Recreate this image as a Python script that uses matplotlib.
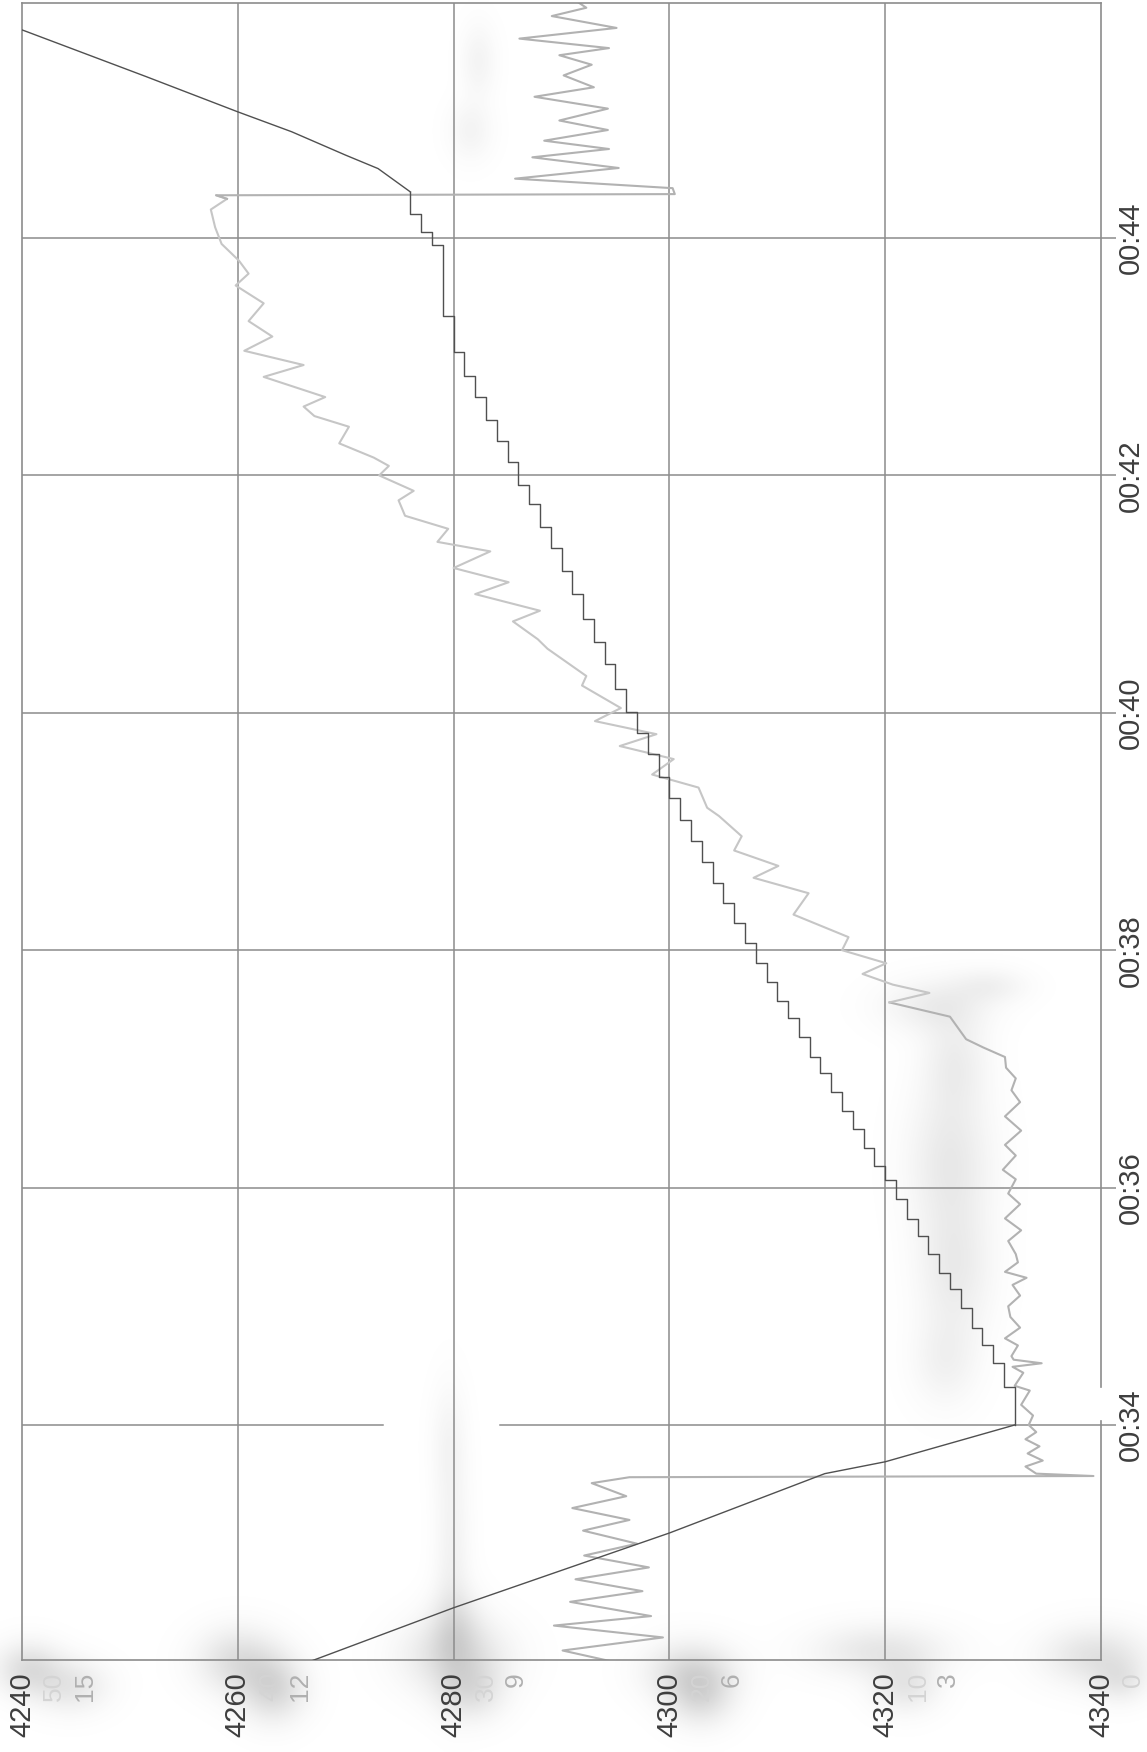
import numpy as np
import matplotlib
matplotlib.use("Agg")
import matplotlib.pyplot as plt
from matplotlib.transforms import blended_transform_factory

plt.rcParams['font.family'] = ['Liberation Sans', 'DejaVu Sans']

# ---------------- data (time in minutes, value on horizontal axis) ----------------
value_ticks = [4240, 4260, 4280, 4300, 4320, 4340]
value_labels = ['4240', '4260', '4280', '4300', '4320', '4340']
time_ticks = [34, 36, 38, 40, 42, 44]
time_labels = ['00:34', '00:36', '00:38', '00:40', '00:42', '00:44']
sec_labels_a = ['15', '12', '9', '6', '3']          # faint secondary scale
sec_labels_b = ['50', '40', '30', '20', '10', '0']  # very faint bleed-through scale

# dark line: descent
desc_t = [31.95, 32.46, 33.09, 33.59, 33.69, 34.0]
desc_v = [4265.0, 4280.0, 4300.0, 4314.4, 4320.0, 4332.0]
# dark line: stepped ascent (value holds until next time)
step_t = [34.0, 34.323, 34.519, 34.673, 34.815, 34.984, 35.147, 35.280, 35.443, 35.591,
          35.739, 35.902, 36.065, 36.184, 36.332, 36.495, 36.643, 36.806, 36.969, 37.102,
          37.265, 37.428, 37.576, 37.733, 37.890, 38.064, 38.225, 38.400, 38.563, 38.740,
          38.916, 39.100, 39.286, 39.463, 39.656, 39.833, 40.010, 40.203, 40.412, 40.598,
          40.791, 41.000, 41.193, 41.392, 41.569, 41.756, 41.916, 42.116, 42.293, 42.469,
          42.658, 42.841, 43.038, 43.347, 43.938, 44.051, 44.205, 44.388]
step_v = [4332, 4331, 4330, 4329, 4328, 4327, 4326, 4325, 4324, 4323,
          4322, 4321, 4320, 4319, 4318, 4317, 4316, 4315, 4314, 4313,
          4312, 4311, 4310, 4309, 4308, 4307, 4306, 4305, 4304, 4303,
          4302, 4301, 4300, 4299, 4298, 4297, 4296, 4295, 4294, 4293,
          4292, 4291, 4290, 4289, 4288, 4287, 4286, 4285, 4284, 4283,
          4282, 4281, 4280, 4279, 4278, 4277, 4276, 4276]
# dark line: final ascent
asc_t = [44.388, 44.585, 44.698, 44.895, 45.063, 45.36, 45.74, 45.80]
asc_v = [4276.0, 4273.0, 4270.0, 4265.0, 4260.0, 4251.5, 4240.4, 4238.6]

# gray wavy line
gray_t = [31.95, 32.10, 32.21, 32.31, 32.39, 32.51, 32.60, 32.70, 32.80, 32.90, 33.00, 33.11,
          33.20, 33.30, 33.40, 33.51, 33.56,
          33.57, 33.59,
          33.65, 33.70, 33.76, 33.82, 33.88, 33.94, 34.00, 34.08, 34.17, 34.29, 34.33, 34.44,
          34.49, 34.52, 34.55, 34.58, 34.67, 34.73, 34.82, 34.91, 35.00, 35.09, 35.18, 35.24,
          35.29, 35.37, 35.44, 35.55, 35.64, 35.74, 35.86, 35.95, 36.07, 36.15, 36.27, 36.36,
          36.48, 36.60, 36.72, 36.82, 36.92, 37.01,
          37.10, 37.18, 37.25, 37.44, 37.56, 37.64, 37.71, 37.80, 37.89, 38.00,
          38.11, 38.30, 38.48, 38.61, 38.71, 38.84, 38.96, 39.13, 39.20, 39.37,
          39.48, 39.61, 39.72, 39.82, 39.93, 40.04, 40.23, 40.31, 40.54, 40.62,
          40.77, 40.86, 41.00, 41.10, 41.22, 41.36, 41.44, 41.55, 41.66, 41.79,
          41.87, 42.00, 42.08, 42.15, 42.27, 42.41, 42.50, 42.58, 42.66, 42.83,
          42.93, 43.05, 43.17, 43.30, 43.45, 43.60, 43.70, 43.81, 43.95, 44.09,
          44.24, 44.33, 44.36,
          44.37, 44.42, 44.50, 44.59, 44.68, 44.75, 44.82, 44.91, 44.99, 45.09,
          45.19, 45.27, 45.37, 45.46, 45.54, 45.60, 45.68, 45.77, 45.87, 45.94, 46.05]
gray_v = [4297.5, 4290.1, 4299.4, 4289.3, 4298.3, 4290.8, 4297.5, 4291.3, 4298.1, 4292.1, 4297.0, 4292.0,
          4296.3, 4291.0, 4296.0, 4292.8, 4296.3,
          4339.3, 4334.0,
          4333.0, 4334.6, 4333.2, 4334.3, 4333.0, 4334.0, 4333.3, 4333.7, 4332.6, 4333.4, 4332.0, 4332.8,
          4331.8, 4334.5, 4331.9, 4331.7, 4332.3, 4331.1, 4332.5, 4331.6, 4331.4, 4332.5, 4331.8, 4333.1,
          4331.1, 4332.3, 4332.1, 4331.4, 4332.6, 4331.1, 4332.5, 4331.4, 4332.1, 4330.9, 4332.1, 4331.1,
          4332.6, 4331.1, 4332.5, 4331.7, 4332.1, 4331.2,
          4331.1, 4329.1, 4327.5, 4326.0, 4320.4, 4324.1, 4320.7, 4317.9, 4320.1, 4316.0,
          4316.6, 4311.5, 4312.9, 4307.8, 4310.1, 4306.0, 4306.7, 4304.6, 4303.5, 4302.7,
          4298.4, 4300.4, 4295.4, 4298.8, 4293.1, 4295.5, 4291.9, 4292.3, 4288.7, 4287.8,
          4285.5, 4288.0, 4282.0, 4285.1, 4280.0, 4283.4, 4278.5, 4279.5, 4275.5, 4274.9,
          4276.3, 4273.1, 4274.0, 4272.6, 4269.4, 4270.3, 4267.1, 4266.1, 4268.1, 4262.4,
          4266.1, 4260.6, 4263.2, 4261.0, 4262.4, 4259.8, 4261.0, 4260.1, 4258.5, 4257.9,
          4257.5, 4259.0, 4258.0,
          4300.5, 4300.3, 4285.7, 4295.3, 4287.3, 4294.4, 4288.4, 4294.3, 4289.8, 4294.3,
          4287.5, 4293.0, 4290.2, 4292.8, 4289.8, 4294.4, 4286.1, 4295.1, 4289.1, 4292.3, 4290.5]

# ---------------- styling ----------------
W, H = 1147, 1752
grid_c = '#8c8c8c'
text_c = '#3e3e3e'
dark_c = '#505050'
gray_mid = '#b2b2b2'
gray_light = '#c6c6c6'

fig = plt.figure(figsize=(W / 100, H / 100), dpi=100)
fig.patch.set_facecolor('white')

# scan smudges (decoration)
bg = fig.add_axes([0, 0, 1, 1], zorder=0)
bg.axis('off')
yy, xx = np.mgrid[0:H:2, 0:W:2].astype(float)
smudges = [(28, 1668, 22, 18, 0.30), (70, 1685, 25, 18, 0.22), (238, 1660, 28, 22, 0.30),
           (272, 1688, 22, 22, 0.35), (455, 1655, 35, 25, 0.30), (470, 1690, 22, 20, 0.26),
           (690, 1670, 30, 20, 0.30), (700, 1695, 22, 20, 0.30), (880, 1650, 45, 18, 0.22),
           (905, 1685, 22, 18, 0.22), (1095, 1655, 35, 20, 0.26), (1120, 1680, 18, 15, 0.18),
           (452, 1560, 12, 70, 0.12), (448, 1440, 12, 40, 0.08), (455, 1625, 18, 25, 0.2),
           (945, 1360, 22, 30, 0.12), (955, 1270, 25, 45, 0.18), (950, 1160, 28, 50, 0.2),
           (955, 1060, 22, 35, 0.15), (935, 1005, 35, 18, 0.16), (990, 985, 25, 12, 0.12),
           (478, 60, 12, 25, 0.10), (470, 130, 15, 20, 0.10)]
dens = np.zeros_like(xx)
for cx, cy, sx, sy, a in smudges:
    dens += a * np.exp(-((xx - cx) ** 2 / (2 * sx ** 2) + (yy - cy) ** 2 / (2 * sy ** 2)))
rgba = np.zeros(xx.shape + (4,))
rgba[..., :3] = 0.58
rgba[..., 3] = np.clip(dens, 0, 0.5)
bg.imshow(rgba, extent=(0, W, H, 0), interpolation='bilinear', aspect='auto')
bg.set_xlim(0, W)
bg.set_ylim(H, 0)

# main axes
left, right, top, bottom = 22, 1101, 3, 1660
ax = fig.add_axes([left / W, (H - bottom) / H, (right - left) / W, (bottom - top) / H], zorder=1)
ax.patch.set_alpha(0)
ax.set_xlim(4240, 4340)
ax.set_ylim(32.02, 45.98)

for s in ['left', 'bottom', 'top']:
    ax.spines[s].set_color(grid_c)
    ax.spines[s].set_linewidth(1.2)
ax.spines['right'].set_visible(False)

ytr = blended_transform_factory(ax.transAxes, ax.transData)
ax.plot([1, 1], [32.02, 34.03], transform=ytr, color=grid_c, lw=1.2, clip_on=False)
ax.plot([1, 1], [34.32, 45.98], transform=ytr, color=grid_c, lw=1.2, clip_on=False)

# gridlines
for v in value_ticks[1:-1]:
    ax.axvline(v, color=grid_c, lw=1.1, zorder=1)
for t in time_ticks:
    if t == 34:
        ax.plot([4240, 4273.5], [t, t], color=grid_c, lw=1.1, zorder=1)
        ax.plot([4284.3, 4340], [t, t], color=grid_c, lw=1.1, zorder=1)
    else:
        ax.axhline(t, color=grid_c, lw=1.1, zorder=1)

# data lines
gt = np.array(gray_t)
gv = np.array(gray_v)
m1 = gt <= 37.6
m2 = (gt >= 37.5) & (gt <= 44.36)
m3 = gt >= 44.33
ax.plot(gv[m1], gt[m1], color=gray_mid, lw=1.5, zorder=2, solid_joinstyle='round')
ax.plot(gv[m2], gt[m2], color=gray_light, lw=1.5, zorder=2, solid_joinstyle='round')
ax.plot(gv[m3], gt[m3], color=gray_mid, lw=1.5, zorder=2, solid_joinstyle='round')
ax.plot(desc_v, desc_t, color=dark_c, lw=1.0, zorder=3)
ax.plot(step_v, step_t, color=dark_c, lw=1.0, zorder=3, drawstyle='steps-pre')
ax.plot(asc_v, asc_t, color=dark_c, lw=1.0, zorder=3)

# ticks and labels
ax.set_xticks(value_ticks)
ax.set_xticklabels(value_labels, rotation=90)
ax.tick_params(axis='x', length=0, pad=8.6, labelsize=21, labelcolor=text_c)
ax.yaxis.tick_right()
ax.set_yticks(time_ticks)
ax.set_yticklabels(time_labels, rotation=90)
ax.tick_params(axis='y', length=11, width=1.1, color=grid_c, pad=0.5, labelsize=21, labelcolor=text_c)
for lab in ax.get_yticklabels():
    lab.set_va('center')

xtr = ax.get_xaxis_transform()
for v, lab in zip(value_ticks[:-1], sec_labels_a):
    ax.text(v + 5.8, -0.0073, lab, transform=xtr, rotation=90, ha='center', va='top',
            fontsize=19, color='#b0b0b0', clip_on=False)
for v, lab in zip(value_ticks, sec_labels_b):
    ax.text(v + 3.0, -0.0073, lab, transform=xtr, rotation=90, ha='center', va='top',
            fontsize=19, color='#d4d4d4', clip_on=False)

fig.savefig('out.png', dpi=100, facecolor='white')
